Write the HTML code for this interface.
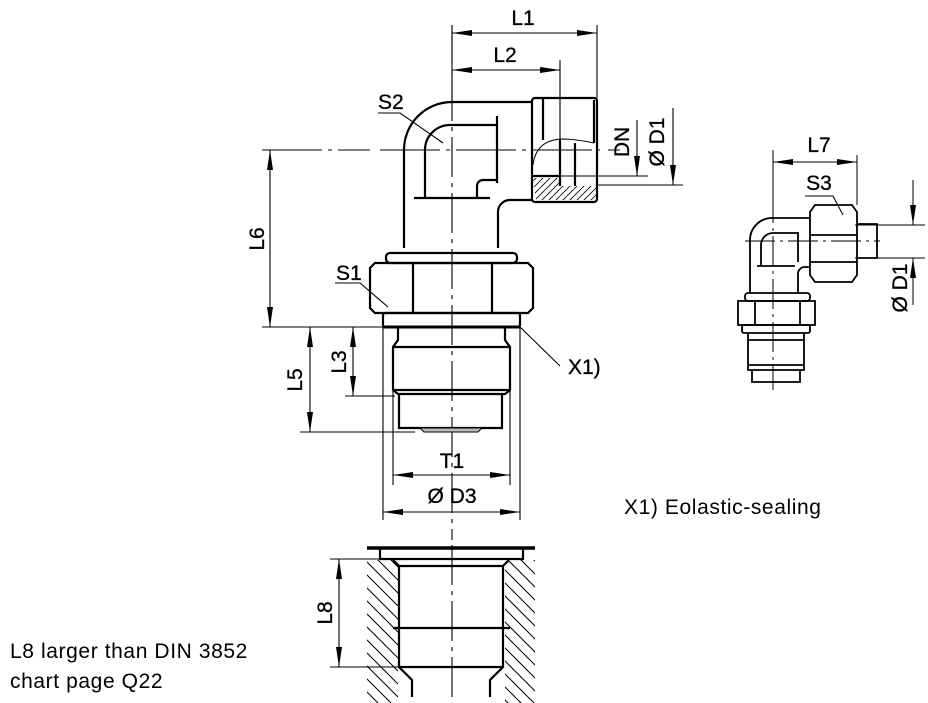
<!DOCTYPE html>
<html><head><meta charset="utf-8"><style>
html,body{margin:0;padding:0;background:#fff;}
svg{display:block;font-family:"Liberation Sans",Arial,sans-serif;}
.t{fill:#000;font-size:21px;stroke:#000;stroke-width:0.3;}
.n{font-size:21px;letter-spacing:0.6px;stroke-width:0;}
</style></head><body>
<svg width="928" height="703" viewBox="0 0 928 703" xmlns="http://www.w3.org/2000/svg">
<defs>
<marker id="a" viewBox="0 0 20 6" refX="20" refY="3" markerWidth="20" markerHeight="6" markerUnits="userSpaceOnUse" orient="auto-start-reverse"><path d="M0,0 L20,3 L0,6 z" fill="#000"/></marker>
<pattern id="h" width="13" height="13" patternUnits="userSpaceOnUse"><path d="M-2,-2 L15,15 M-15,-2 L2,15 M11,-2 L28,15" stroke="#000" stroke-width="1"/></pattern>
<pattern id="h2" width="7" height="7" patternUnits="userSpaceOnUse"><path d="M7,0 L0,7 M0,0 L-7,7 M14,0 L7,7" stroke="#000" stroke-width="0.8"/></pattern>
</defs>
<g fill="none" stroke="#000" stroke-width="1.1">
<path d="M452,25 V540" stroke-dasharray="40,6,4,6"/>
<path d="M452,545 V703" stroke-dasharray="40,6,4,6"/>
<path d="M262,150 H370 M380,150 H600 M608,150 H620" stroke-dasharray="60,6,4,6"/>
<path d="M452,25 V100 M597,25 V98 M560,60 V180"/>
<path d="M452,33 H597" marker-start="url(#a)" marker-end="url(#a)"/>
<path d="M452,70 H560" marker-start="url(#a)" marker-end="url(#a)"/>
<path d="M532,176 H648 M597,185 H683"/>
<path d="M637,120 V176" marker-end="url(#a)"/>
<path d="M673,108 V185" marker-end="url(#a)"/>
<path d="M262,327 H383"/>
<path d="M270,150 V327" marker-start="url(#a)" marker-end="url(#a)"/>
<path d="M300,432 H415 M345,396 H395"/>
<path d="M310,327 V432" marker-start="url(#a)" marker-end="url(#a)"/>
<path d="M353,327 V396" marker-start="url(#a)" marker-end="url(#a)"/>
<path d="M393,347 V485 M510,347 V485 M383,327 V520 M520,327 V520"/>
<path d="M393,475 H510" marker-start="url(#a)" marker-end="url(#a)"/>
<path d="M383,512 H520" marker-start="url(#a)" marker-end="url(#a)"/>
<path d="M378,113 H400 L443,143 M335,283 H360 L388,307 M520,327 L560,366"/>
<path d="M330,559 H385 M330,667 H400"/>
<path d="M339,559 V667" marker-start="url(#a)" marker-end="url(#a)"/>
</g>
<g fill="none" stroke="#000" stroke-width="2.2">
<path d="M404,248 V150 A48,48 0 0 1 452,102 H532"/>
<path d="M498,248 V212 A12,12 0 0 1 510,200 H532"/>
<path d="M425,197 V150 A25,25 0 0 1 450,125 H497 M497,116 V183 M414,198 H490"/>
<path d="M477,197 V186 A6,6 0 0 1 483,180 H497"/>
<rect x="532" y="98" width="65" height="104" rx="3"/>
<path d="M543,99 V140 M594,100 V143"/>
<path d="M532,176 H560 M560,140 V186 M575,143 V186"/>
</g>
<path d="M533,178 H560 V186 H596 V200 H536 Z" fill="url(#h2)" stroke="none"/>
<path d="M533,165 Q536,140 562,139 Q575,139 594,143" fill="none" stroke="#000" stroke-width="1"/>
<g fill="none" stroke="#000" stroke-width="2.2">
<rect x="386" y="253" width="131" height="10" rx="4"/>
<path d="M375,263 H528 L533,268 V308 L528,313 H375 L370,308 V268 Z"/>
<path d="M413,263 V313 M492,263 V313"/>
<rect x="383" y="313" width="137" height="14" rx="2"/>
<path d="M383,327 H520" stroke-width="3"/>
<path d="M398,327 V340 L393,347 V390 L398,394 H505 L510,390 V347 L505,340 V327"/>
<path d="M393,347 H510 M393,390 H510"/>
<path d="M399,394 V428 H502 V394"/>
</g>
<path d="M420,428 H482 L478,432 H424 Z" fill="#bbb" stroke="#000" stroke-width="1"/>
<path d="M367,560 H398 V703 H367 Z M505,560 H535 V703 H505 Z" fill="url(#h)" stroke="none"/>
<g fill="none" stroke="#000" stroke-width="2.2">
<path d="M367,548 H535" stroke-width="3.5"/>
<path d="M380,548 V559 H523 V548"/>
<path d="M393,560 L399,566 V667 L412,680 V697 M509,560 L503,566 V667 L490,680 V697"/>
<path d="M399,566 H503 M393,628 H510 M399,667 H503"/>
</g>
<g fill="none" stroke="#000" stroke-width="1.8">
<path d="M773,150 V390" stroke-width="1" stroke-dasharray="30,5,3,5"/>
<path d="M745,241 H880" stroke-width="1" stroke-dasharray="30,5,3,5"/>
<path d="M773,155 V215 M857,155 V205" stroke-width="1"/>
<path d="M773,162 H857" stroke-width="1" marker-start="url(#a)" marker-end="url(#a)"/>
<path d="M805,196 H833 L843,215" stroke-width="1"/>
<path d="M750,293 V240 A22,22 0 0 1 772,218 H810 M798,293 V275 A7,7 0 0 1 805,267 H810"/>
<path d="M761,266 V245 A12,12 0 0 1 773,233 H798 V262 M757,266 H795"/>
<path d="M810,212 L815,205 H852 L857,212 V275 L852,282 H815 L810,275 Z M810,235 H857 M810,262 H857"/>
<path d="M857,224 H877 V258 H857"/>
<path d="M855,225 H925 M855,258 H925" stroke-width="1"/>
<path d="M913,180 V225" stroke-width="1" marker-end="url(#a)"/>
<path d="M913,305 V258" stroke-width="1" marker-end="url(#a)"/>
<rect x="745" y="293" width="65" height="8" rx="3"/>
<path d="M738,301 H815 V325 H738 Z M755,301 V325 M800,301 V325"/>
<rect x="742" y="325" width="68" height="8" rx="2"/>
<path d="M748,333 V370 H804 V333 M748,340 H804 M748,365 H804 M752,370 V382 H800 V370"/>
</g>
<g class="t">
<text x="523" y="25" text-anchor="middle">L1</text>
<text x="505" y="62" text-anchor="middle">L2</text>
<text x="378" y="109">S2</text>
<text x="336" y="280">S1</text>
<text x="568" y="374">X1)</text>
<text x="452" y="468" text-anchor="middle">T1</text>
<text x="452" y="503" text-anchor="middle">Ø D3</text>
<text x="819" y="152" text-anchor="middle">L7</text>
<text x="819" y="190" text-anchor="middle">S3</text>
<text class="n" x="624" y="514">X1) Eolastic-sealing</text>
<text class="n" x="10" y="658">L8 larger than DIN 3852</text>
<text class="n" x="10" y="688">chart page Q22</text>
<text transform="translate(264,239) rotate(-90)" text-anchor="middle">L6</text>
<text transform="translate(302,380) rotate(-90)" text-anchor="middle">L5</text>
<text transform="translate(346,362) rotate(-90)" text-anchor="middle">L3</text>
<text transform="translate(332,613) rotate(-90)" text-anchor="middle">L8</text>
<text transform="translate(629,142) rotate(-90)" text-anchor="middle">DN</text>
<text transform="translate(664,142) rotate(-90)" text-anchor="middle">Ø D1</text>
<text transform="translate(907,288) rotate(-90)" text-anchor="middle">Ø D1</text>
</g>
</svg>
</body></html>
